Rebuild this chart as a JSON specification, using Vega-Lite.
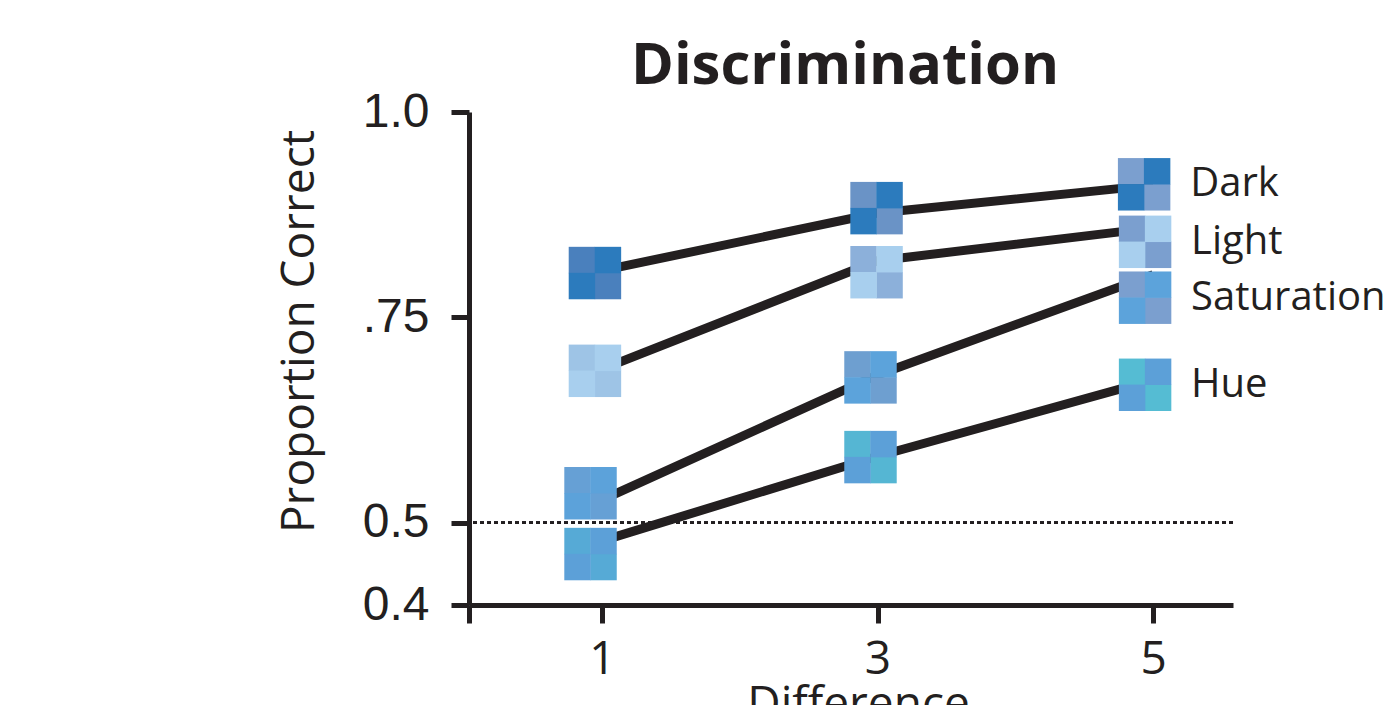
{
  "$schema": "https://vega.github.io/schema/vega-lite/v6.json",
  "width": 764,
  "height": 493,
  "autosize": "none",
  "padding": {"left": 469, "top": 112, "right": 151, "bottom": 100},
  "background": "white",
  "config": {"view": {"stroke": null}, "axis": {"grid": false}},
  "title": {"text": "Discrimination", "font": "Open Sans", "fontSize": 58, "fontWeight": "bold", "color": "#231f20", "anchor": "middle", "frame": "group", "baseline": "alphabetic", "offset": 27, "dx": -6, "dy": 81},
  "data": {"values": [
    {"cond": "Dark", "diff": 1, "p": 0.807, "mx": 0.949, "my": 0.804, "ta": "D1a", "tb": "D1b"},
    {"cond": "Dark", "diff": 3, "p": 0.877, "mx": 2.993, "my": 0.883, "ta": "D3a", "tb": "D3b"},
    {"cond": "Dark", "diff": 5, "p": 0.911, "mx": 4.935, "my": 0.912, "ta": "D5a", "tb": "D5b"},
    {"cond": "Light", "diff": 1, "p": 0.687, "mx": 0.949, "my": 0.685, "ta": "L1a", "tb": "L1b"},
    {"cond": "Light", "diff": 3, "p": 0.819, "mx": 2.993, "my": 0.805, "ta": "L3a", "tb": "L3b"},
    {"cond": "Light", "diff": 5, "p": 0.859, "mx": 4.942, "my": 0.842, "ta": "L5a", "tb": "L5b"},
    {"cond": "Saturation", "diff": 1, "p": 0.528, "mx": 0.917, "my": 0.536, "ta": "S1a", "tb": "S1b"},
    {"cond": "Saturation", "diff": 3, "p": 0.680, "mx": 2.949, "my": 0.677, "ta": "S3a", "tb": "S3b"},
    {"cond": "Saturation", "diff": 5, "p": 0.802, "mx": 4.942, "my": 0.774, "ta": "S5a", "tb": "S5b"},
    {"cond": "Hue", "diff": 1, "p": 0.478, "mx": 0.917, "my": 0.462, "ta": "H1a", "tb": "H1b"},
    {"cond": "Hue", "diff": 3, "p": 0.581, "mx": 2.949, "my": 0.580, "ta": "H3a", "tb": "H3b"},
    {"cond": "Hue", "diff": 5, "p": 0.674, "mx": 4.942, "my": 0.668, "ta": "H5a", "tb": "H5b"}
  ]},
  "layer": [
    {
      "mark": {"type": "line", "strokeWidth": 9, "color": "#231f20", "strokeCap": "butt"},
      "encoding": {
        "x": {"field": "diff", "type": "quantitative",
          "scale": {"domain": [0.035, 5.58], "nice": false, "zero": false},
          "axis": {"values": [0.035, 1, 3, 5], "labelExpr": "datum.value < 0.5 ? '' : format(datum.value, 'd')",
            "title": "Difference", "domainColor": "#231f20", "domainWidth": 5, "tickColor": "#231f20", "tickWidth": 5, "tickSize": 18,
            "labelFont": "Open Sans", "labelFontSize": 46, "labelColor": "#231f20", "labelBaseline": "alphabetic", "labelPadding": 50,
            "labelFlush": false, "labelOverlap": false,
            "titleFont": "Open Sans", "titleFontSize": 46, "titleFontWeight": "normal", "titleColor": "#231f20",
            "titleBaseline": "alphabetic", "titleAlign": "center", "titleX": 389, "titleY": 113}},
        "y": {"field": "p", "type": "quantitative",
          "scale": {"domain": [0.4, 1.0], "nice": false, "zero": false},
          "axis": {"values": [0.4, 0.5, 0.75, 1.0], "labelExpr": "datum.value == 0.75 ? '.75' : format(datum.value, '.1f')",
            "title": "Proportion Correct", "domainColor": "#231f20", "domainWidth": 5, "tickColor": "#231f20", "tickWidth": 5, "tickSize": 18,
            "labelFont": "Liberation Sans", "labelFontSize": 48, "labelColor": "#231f20", "labelPadding": 22, "labelBaseline": "middle",
            "labelFlush": false, "labelOverlap": false,
            "titleFont": "Open Sans", "titleFontSize": 46, "titleFontWeight": "normal", "titleColor": "#231f20",
            "titleAngle": -90, "titleBaseline": "alphabetic", "titleAlign": "center", "titleX": -156, "titleY": 219}},
        "detail": {"field": "cond", "type": "nominal"}
      }
    },
    {
      "mark": {"type": "rule", "strokeDash": [4, 3], "strokeWidth": 2, "color": "#231f20"},
      "encoding": {"y": {"datum": 0.5, "type": "quantitative"}}
    },
    {
      "mark": {"type": "point", "shape": "square", "filled": true, "size": 700, "opacity": 1, "strokeWidth": 0},
      "encoding": {
        "x": {"field": "mx", "type": "quantitative"},
        "y": {"field": "my", "type": "quantitative"},
        "xOffset": {"value": -13}, "yOffset": {"value": -13},
        "color": {"field": "ta", "type": "nominal", "legend": null,
          "scale": {"domain": ["D1a","D1b","D3a","D3b","D5a","D5b","L1a","L1b","L3a","L3b","L5a","L5b","S1a","S1b","S3a","S3b","S5a","S5b","H1a","H1b","H3a","H3b","H5a","H5b"],
            "range": ["#4a80bd","#2c7bbd","#6a93c6","#2c7bbd","#7b9fcf","#2c7bbd","#9ec4e6","#a8cfee","#8cb0da","#a8cfee","#7b9fcf","#a8cfee","#66a0d5","#5ca2da","#6e9fd0","#5ca3db","#7b9fcf","#5ca3db","#56aad6","#5ca0d8","#55b6d3","#5ca0d8","#55bcd3","#5ca0d8"]}}
      }
    },
    {
      "mark": {"type": "point", "shape": "square", "filled": true, "size": 700, "opacity": 1, "strokeWidth": 0},
      "encoding": {
        "x": {"field": "mx", "type": "quantitative"},
        "y": {"field": "my", "type": "quantitative"},
        "xOffset": {"value": 13}, "yOffset": {"value": 13},
        "color": {"field": "ta", "type": "nominal", "legend": null}
      }
    },
    {
      "mark": {"type": "point", "shape": "square", "filled": true, "size": 700, "opacity": 1, "strokeWidth": 0},
      "encoding": {
        "x": {"field": "mx", "type": "quantitative"},
        "y": {"field": "my", "type": "quantitative"},
        "xOffset": {"value": 13}, "yOffset": {"value": -13},
        "color": {"field": "tb", "type": "nominal", "legend": null}
      }
    },
    {
      "mark": {"type": "point", "shape": "square", "filled": true, "size": 700, "opacity": 1, "strokeWidth": 0},
      "encoding": {
        "x": {"field": "mx", "type": "quantitative"},
        "y": {"field": "my", "type": "quantitative"},
        "xOffset": {"value": -13}, "yOffset": {"value": 13},
        "color": {"field": "tb", "type": "nominal", "legend": null}
      }
    },
    {
      "transform": [{"filter": "datum.diff == 5"}],
      "mark": {"type": "text", "align": "left", "baseline": "middle", "dx": 46, "font": "Open Sans", "fontSize": 40, "color": "#231f20"},
      "encoding": {
        "x": {"field": "mx", "type": "quantitative"},
        "y": {"field": "my", "type": "quantitative"},
        "text": {"field": "cond", "type": "nominal"}
      }
    }
  ]
}
